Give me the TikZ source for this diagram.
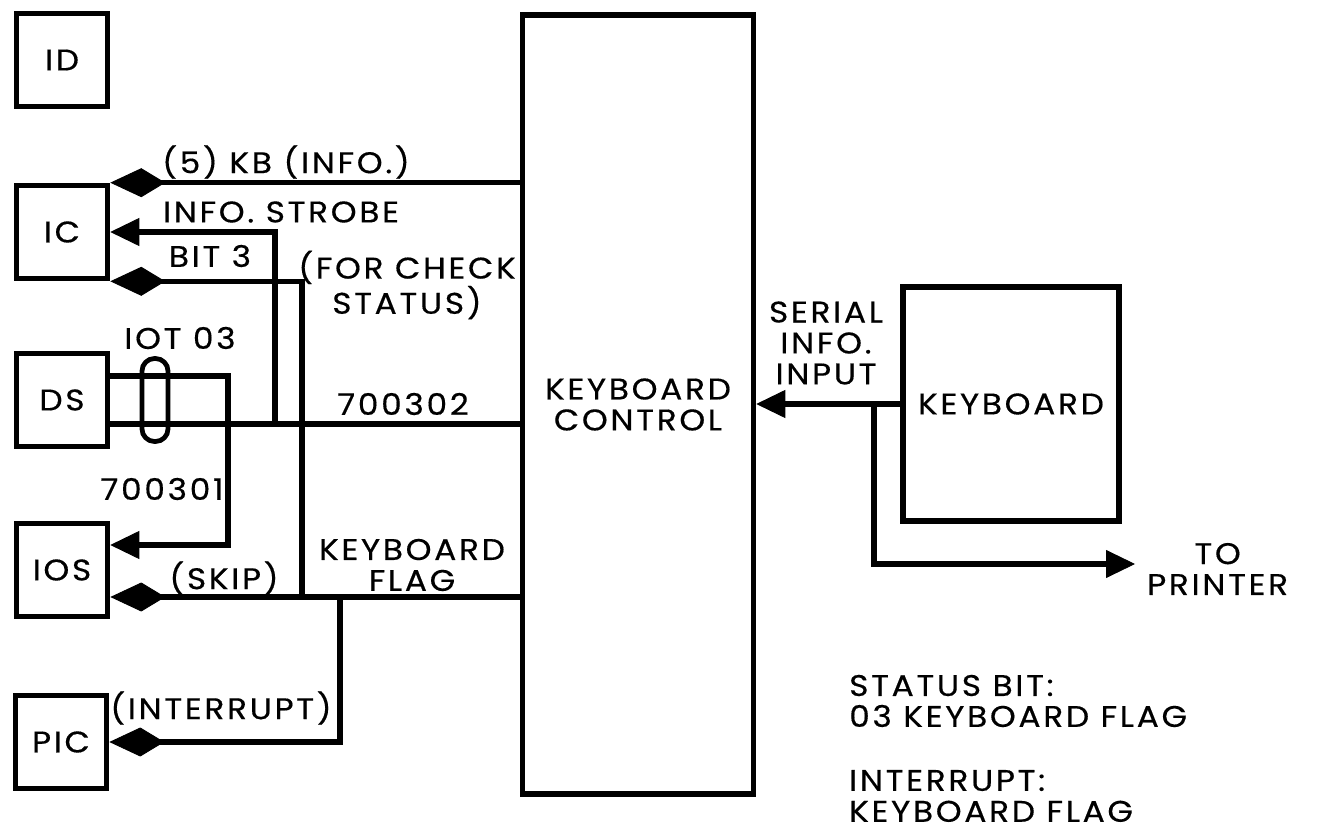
\documentclass[tikz,border=0pt]{standalone}
\usepackage{fontspec}
\usepackage{tikz}
\usetikzlibrary{positioning, arrows.meta, calc}
\newfontfamily\lblfamily{Poppins}[LetterSpace=9, FakeStretch=1.1, FakeBold=0.4]
\newcommand{\lblfont}{\lblfamily\fontsize{17}{17.6}\selectfont}

\begin{document}
\begin{tikzpicture}[
    x=0.02cm, y=-0.02cm,
    unit/.style={draw, line width=3.2pt, minimum width=1.82cm, minimum height=1.86cm},
    wire/.style={line width=2.9pt},
    dmd/.style={wire, -{Kite[length=11mm, width=5.8mm, inset=4.8mm, line width=0.5pt]}},
    arr/.style={wire, -{Triangle[length=5.8mm, width=5.6mm, line width=0.5pt]}},
    every node/.style={font=\lblfont, align=center}
]
\useasboundingbox (0,0) rectangle (1320,831);

% left side units
\node[unit] (id)  at (62,60)  {ID};
\node[unit] (ic)  at (62,232) {IC};
\node[unit] (ds)  at (62,400) {DS};
\node[unit] (ios) at (62,570) {IOS};
\node[unit] (pic) at (61,742) {PIC};

% keyboard control and keyboard
\node[draw, line width=3.2pt, minimum width=4.62cm, minimum height=15.58cm] (kbc) at (638,404.5) {KEYBOARD\\CONTROL};
\node[draw, line width=3.2pt, minimum width=4.32cm, minimum height=4.68cm] (kbd) at (1011,404) {KEYBOARD};

% junctions
\coordinate (dsup) at ($(ds.east)+(0,-24)$);
\coordinate (dslo) at ($(ds.east)+(0,24)$);
\coordinate (iosin) at ($(ios.east)+(0,-25)$);
\coordinate (iosflag) at ($(ios.east)+(0,27)$);
\coordinate (stb) at (275,424);
\coordinate (bit) at (302,597);
\coordinate (irq) at (340,597);
\coordinate (tap) at (874,404);
\coordinate (prn) at (1135,564);

% (5) KB (INFO.)
\draw[dmd] (kbc.west |- ic.north) -- (ic.north east);
\node at (286,162) {(5) KB (INFO.)};

% info strobe and bit 3
\draw[arr] (stb) |- (ic.east);
\node at (281,212) {INFO. STROBE};
\draw[dmd] (bit) |- (ic.south east);
\node at (210,256) {BIT 3};
\node at (407,285) {(FOR CHECK\\STATUS)};

% IOT 03
\draw[wire] (dslo) -- (kbc.west |- dslo);
\draw[arr] (dsup) -| (228,545) -- (iosin);
\node[draw, line width=2.7pt, rounded corners=0.25cm, minimum width=0.52cm, minimum height=1.66cm, inner sep=0pt] (iot) at (155,400) {};
\node at (180,338) {IOT 03};
\node at (403,404) {700302};
\node at (162,489) {700301};

% keyboard flag
\draw[dmd] (kbc.west |- iosflag) -- (iosflag);
\node at (412,565) {KEYBOARD\\FLAG};
\node at (224,578) {(SKIP)};
\draw[dmd] (irq) |- (pic.east);
\node at (221,708) {(INTERRUPT)};

% serial input and printer
\draw[arr] (kbd.west) -- (kbd.west -| kbc.east);
\node at (826,343) {SERIAL\\INFO.\\INPUT};
\draw[arr] (tap) |- (prn);
\node[right=0.12cm of prn, yshift=-0.1cm] {TO\\PRINTER};

% notes
\node[anchor=west, align=left] at (843,701) {STATUS BIT:\\03 KEYBOARD FLAG};
\node[anchor=west, align=left] at (843,796) {INTERRUPT:\\KEYBOARD FLAG};

\end{tikzpicture}
\end{document}
